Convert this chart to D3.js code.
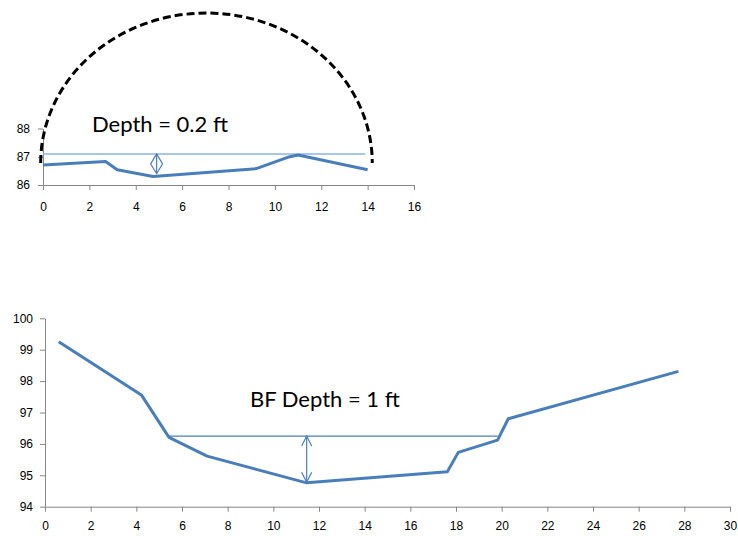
<!DOCTYPE html>
<html lang="en">
<head>
  <meta charset="UTF-8">
  <title>Cross sections</title>
  <script src="https://cdn.jsdelivr.net/npm/d3@7.6.1/dist/d3.min.js"></script>
  <style>
    body { margin: 0; background: #fff; }
    svg { display: block; }
    .axis path, .axis line { stroke: #868686; }
    .axis text { font-family: "Liberation Sans", Arial, sans-serif; font-size: 12px; fill: #000; }
    .note { font-family: Lato, "Open Sans", sans-serif; font-size: 22px; fill: #000; }
  </style>
</head>
<body>
  <div id="svg"></div>
  <script>
    // top cross section (small)
    const topStation = [0, 2.7, 3.2, 4.75, 9.2, 10.55, 11.0, 14.0]
    const topElev = [86.71, 86.83, 86.54, 86.3, 86.58, 86.98, 87.06, 86.54]
    const topWater = { x: [0, 13.9], y: 87.1 }
    const topArrow = { x: 4.9, y: [87.1, 86.4] }
    const topArc = { cx: 7.05, cy: 86.78, rx: 7.15, ry: 5.31 }
    const topXTicks = [0, 2, 4, 6, 8, 10, 12, 14, 16]
    const topYTicks = [86, 87, 88]

    // bottom cross section (bankfull)
    const botStation = [0.6, 4.22, 5.43, 7.1, 11.46, 17.62, 18.1, 19.82, 20.29, 27.74]
    const botElev = [99.25, 97.56, 96.21, 95.61, 94.76, 95.11, 95.73, 96.12, 96.8, 98.31]
    const botWater = { x: [5.43, 19.82], y: 96.25 }
    const botArrow = { x: 11.46, y: [96.25, 94.78] }
    const botXTicks = [0, 2, 4, 6, 8, 10, 12, 14, 16, 18, 20, 22, 24, 26, 28, 30]
    const botYTicks = [94, 95, 96, 97, 98, 99, 100]

    const width = 738
    const height = 536
    const blue = '#4a7ebb'

    const svg = d3.select('#svg').append('svg')
      .attr('width', width)
      .attr('height', height)

    // arrow heads
    const defs = svg.append('defs')
    function head(id, len, half) {
      defs.append('marker')
        .attr('id', id)
        .attr('markerUnits', 'userSpaceOnUse')
        .attr('viewBox', `0 0 ${len + 2} ${half * 2 + 2}`)
        .attr('markerWidth', len + 2)
        .attr('markerHeight', half * 2 + 2)
        .attr('refX', len + 1)
        .attr('refY', half + 1)
        .attr('orient', 'auto-start-reverse')
        .append('path')
        .attr('d', `M1,1 L${len + 1},${half + 1} L1,${half * 2 + 1}`)
        .attr('fill', 'none')
        .attr('stroke', blue)
        .attr('stroke-width', 1.2)
    }
    head('headTop', 10, 6)
    head('headBot', 10, 5)

    const line = (x, y) => d3.line().x(d => x(d[0])).y(d => y(d[1]))

    // ---------- top chart ----------
    const x0 = d3.scaleLinear().domain([0, 16]).range([43, 414])
    const y0 = d3.scaleLinear().domain([86, 88]).range([185, 128.5])

    svg.append('g').attr('class', 'axis')
      .attr('transform', `translate(0,${y0(86)})`)
      .call(d3.axisBottom(x0).tickValues(topXTicks).tickSize(5).tickSizeOuter(0).tickPadding(12))
    svg.append('g').attr('class', 'axis')
      .attr('transform', `translate(${x0(0)},0)`)
      .call(d3.axisLeft(y0).tickValues(topYTicks).tickFormat(d3.format('d')).tickSize(5).tickSizeOuter(0).tickPadding(8))

    svg.append('line')
      .attr('x1', x0(topWater.x[0])).attr('x2', x0(topWater.x[1]))
      .attr('y1', y0(topWater.y)).attr('y2', y0(topWater.y))
      .attr('stroke', '#8eb4e3').attr('stroke-width', 1.5)

    svg.append('path')
      .datum(topStation.map((s, i) => [s, topElev[i]]))
      .attr('d', line(x0, y0))
      .attr('fill', 'none').attr('stroke', blue).attr('stroke-width', 3)
      .attr('stroke-linejoin', 'round')

    svg.append('line')
      .attr('x1', x0(topArrow.x)).attr('x2', x0(topArrow.x))
      .attr('y1', y0(topArrow.y[0])).attr('y2', y0(topArrow.y[1]))
      .attr('stroke', blue).attr('stroke-width', 1.2)
      .attr('marker-start', 'url(#headTop)').attr('marker-end', 'url(#headTop)')

    svg.append('path')
      .attr('d', `M${x0(topArc.cx - topArc.rx)},${y0(topArc.cy)} A${x0(topArc.rx) - x0(0)},${y0(86) - y0(86 + topArc.ry)} 0 0 1 ${x0(topArc.cx + topArc.rx)},${y0(topArc.cy)}`)
      .attr('fill', 'none').attr('stroke', '#000').attr('stroke-width', 3)
      .attr('stroke-dasharray', '8,4')

    svg.append('text').attr('class', 'note')
      .attr('x', 92).attr('y', 132)
      .text('Depth = 0.2 ft')

    // ---------- bottom chart ----------
    const x1 = d3.scaleLinear().domain([0, 30]).range([45, 730])
    const y1 = d3.scaleLinear().domain([94, 100]).range([506.7, 318.3])

    svg.append('g').attr('class', 'axis')
      .attr('transform', `translate(0,${y1(94)})`)
      .call(d3.axisBottom(x1).tickValues(botXTicks).tickSize(5).tickSizeOuter(0).tickPadding(10))
    svg.append('g').attr('class', 'axis')
      .attr('transform', `translate(${x1(0)},0)`)
      .call(d3.axisLeft(y1).tickValues(botYTicks).tickFormat(d3.format('d')).tickSize(5).tickSizeOuter(0).tickPadding(7))

    svg.append('line')
      .attr('x1', x1(botWater.x[0])).attr('x2', x1(botWater.x[1]))
      .attr('y1', y1(botWater.y)).attr('y2', y1(botWater.y))
      .attr('stroke', blue).attr('stroke-width', 1.2)

    svg.append('path')
      .datum(botStation.map((s, i) => [s, botElev[i]]))
      .attr('d', line(x1, y1))
      .attr('fill', 'none').attr('stroke', blue).attr('stroke-width', 3)
      .attr('stroke-linejoin', 'round')

    svg.append('line')
      .attr('x1', x1(botArrow.x)).attr('x2', x1(botArrow.x))
      .attr('y1', y1(botArrow.y[0])).attr('y2', y1(botArrow.y[1]))
      .attr('stroke', blue).attr('stroke-width', 1.2)
      .attr('marker-start', 'url(#headBot)').attr('marker-end', 'url(#headBot)')

    svg.append('text').attr('class', 'note')
      .attr('x', 250).attr('y', 407)
      .text('BF Depth = 1 ft')
  </script>
</body>
</html>
